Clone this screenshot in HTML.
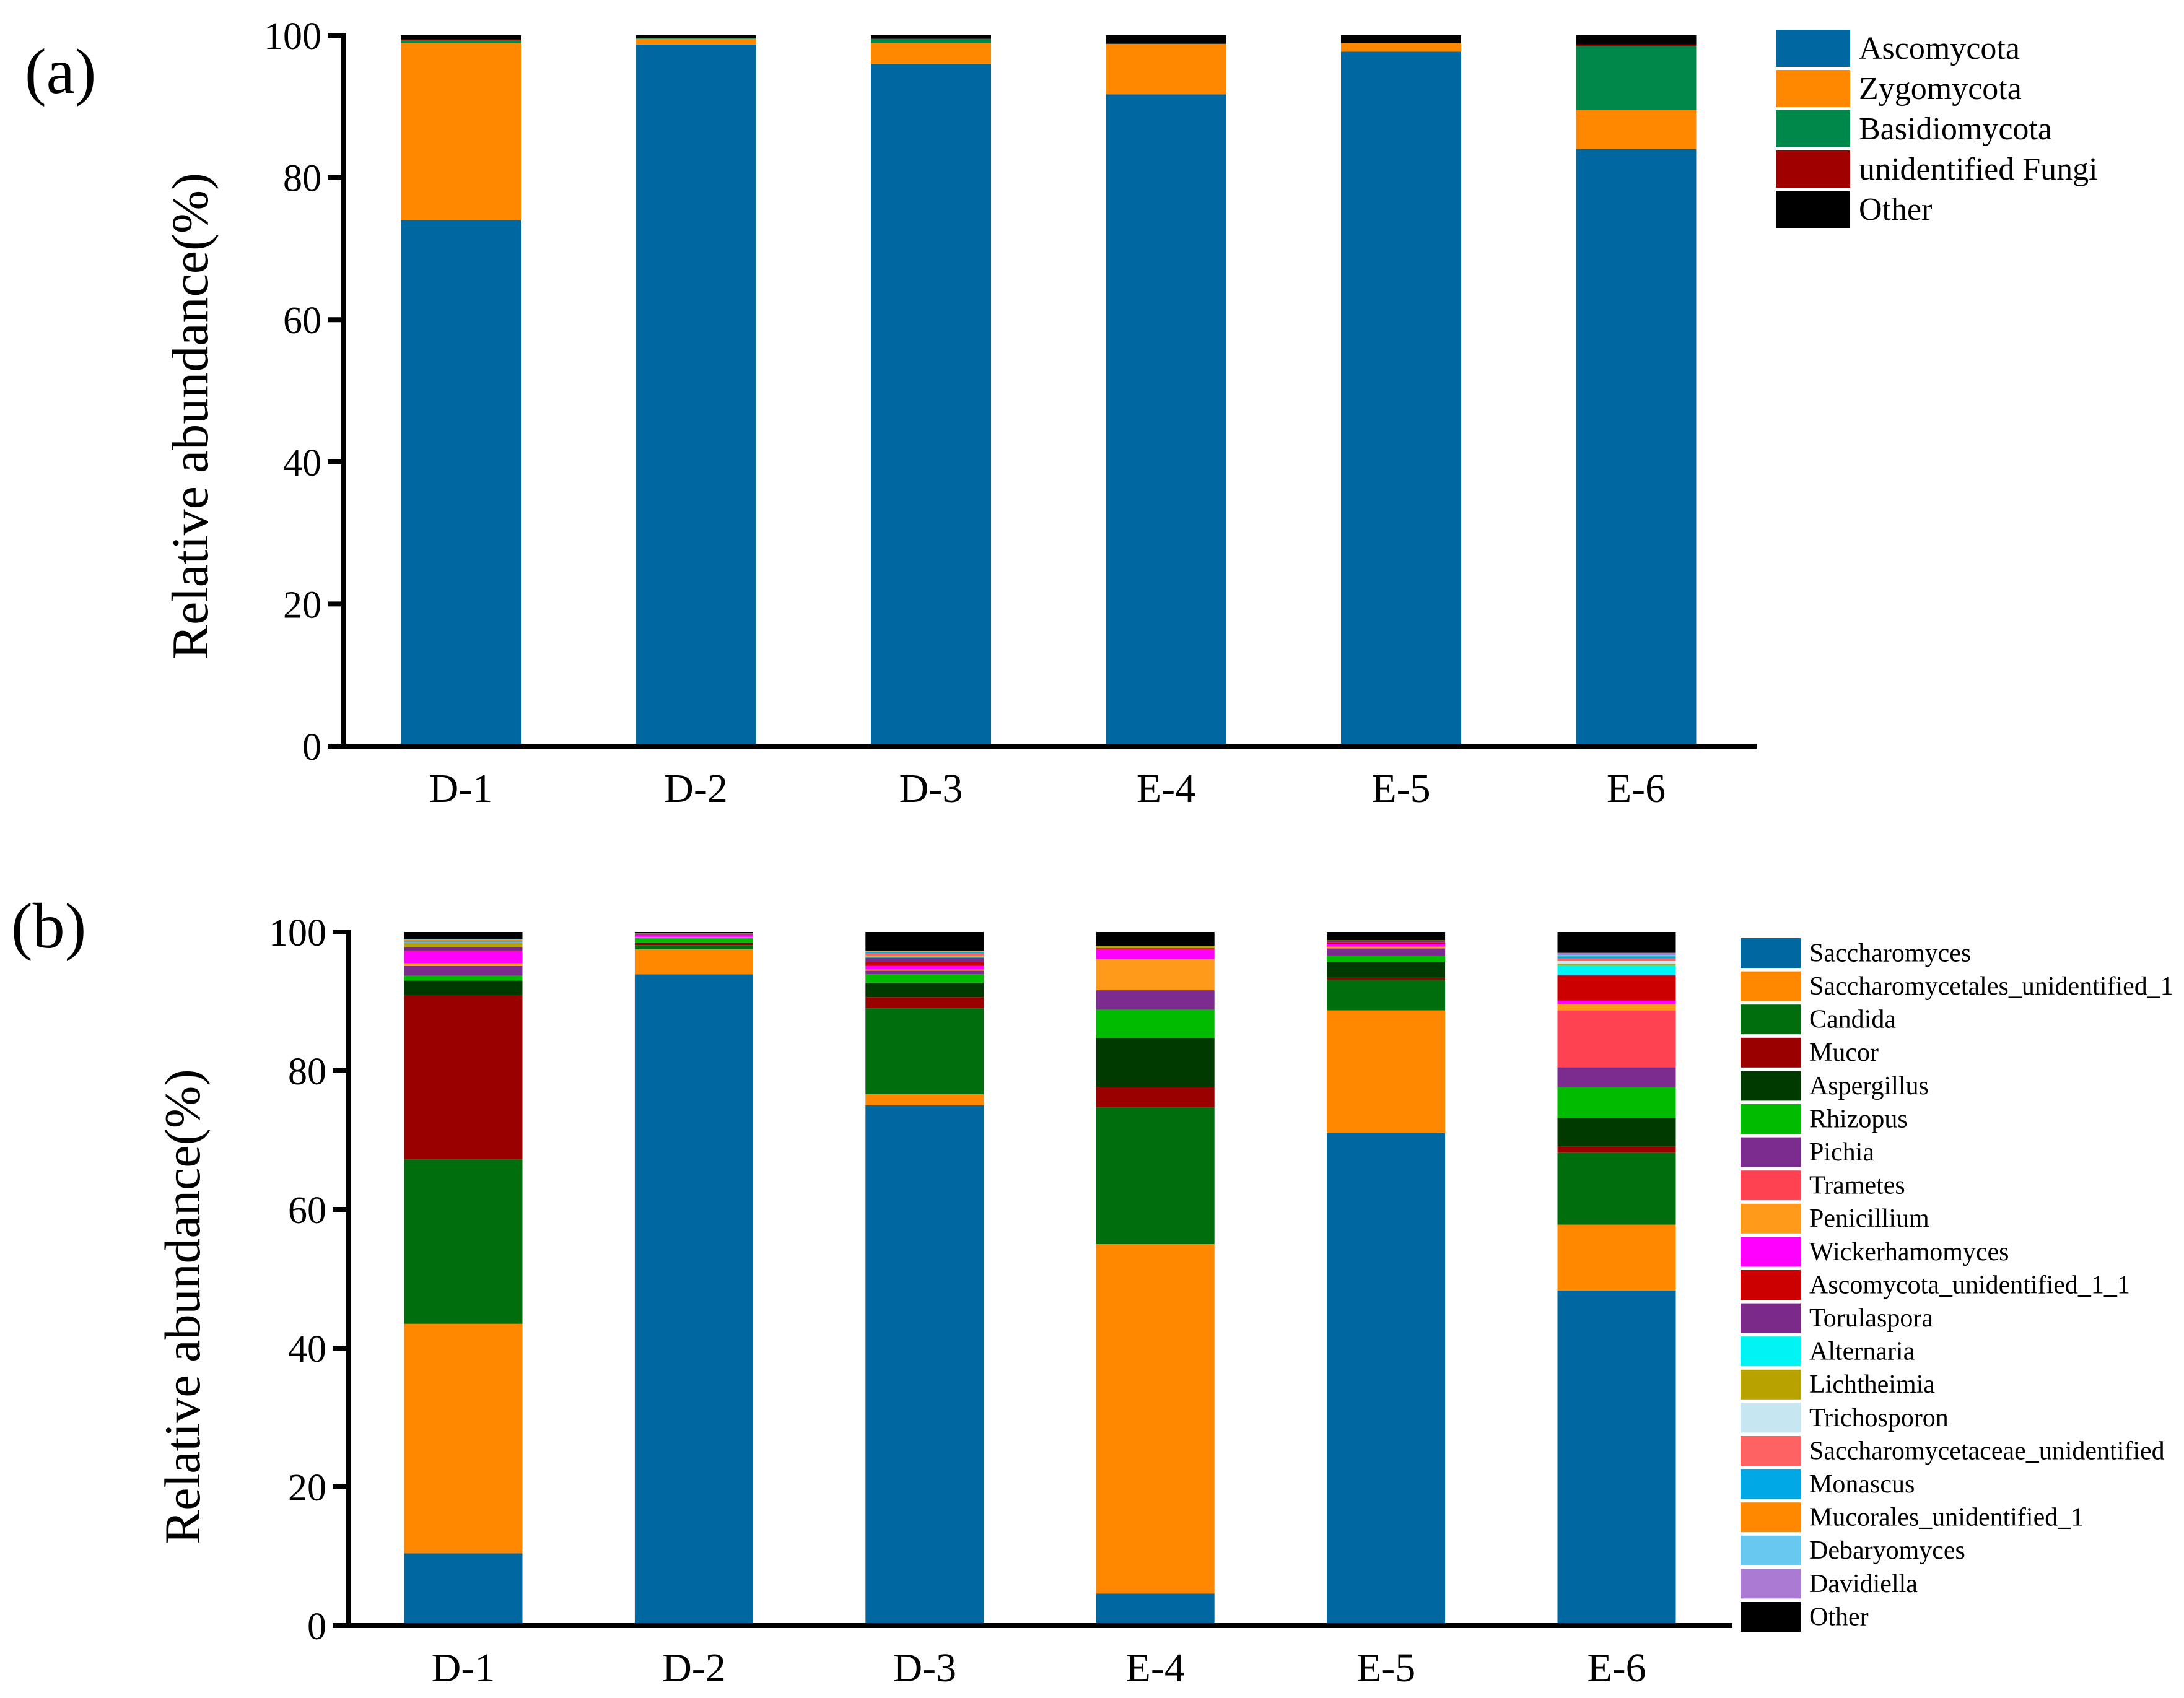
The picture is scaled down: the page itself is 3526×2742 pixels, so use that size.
<!DOCTYPE html>
<html><head><meta charset="utf-8"><style>
html,body{margin:0;padding:0;background:#fff;}
svg{display:block;}
svg text{font-family:"Liberation Serif","Times New Roman",serif;}
</style></head><body>
<svg id="fig" width="3526" height="2742" viewBox="0 0 3526 2742" xmlns="http://www.w3.org/2000/svg" font-family="Liberation Serif, serif">
<text x="40" y="150" font-size="104">(a)</text>
<text x="18" y="1530" font-size="104">(b)</text>
<text transform="translate(335,672) rotate(-90)" text-anchor="middle" font-size="84">Relative abundance(%)</text>
<text transform="translate(322,2110) rotate(-90)" text-anchor="middle" font-size="82">Relative abundance(%)</text>
<g id="pa"></g>
<g id="pb"></g>
</svg>
<script>
const samples = ["D-1","D-2","D-3","E-4","E-5","E-6"];
const yTicks = [0,20,40,60,80,100];
const phylaNames = ["Ascomycota","Zygomycota","Basidiomycota","unidentified Fungi","Other"];
const phylaColors = ["#0067a0","#ff8800","#00884a","#a00000","#000000"];
const ascomycota = [74.0,98.7,96.0,91.7,97.7,84.0];
const zygomycota = [24.9,0.8,2.9,7.1,1.2,5.5];
const basidiomycota = [0.4,0.1,0.6,0.0,0.0,9.0];
const unidentifiedFungi = [0.1,0.0,0.0,0.0,0.0,0.2];
const otherA = [0.8,0.5,0.6,1.2,1.1,1.3];

const genusNames = ["Saccharomyces","Saccharomycetales_unidentified_1","Candida","Mucor","Aspergillus","Rhizopus","Pichia","Trametes","Penicillium","Wickerhamomyces","Ascomycota_unidentified_1_1","Torulaspora","Alternaria","Lichtheimia","Trichosporon","Saccharomycetaceae_unidentified","Monascus","Mucorales_unidentified_1","Debaryomyces","Davidiella","Other"];
const genusColors = ["#0067a0","#ff8800","#006e0c","#990000","#003a00","#00bb00","#7b2c8e","#ff4252","#ff9a1a","#ff00ff","#cc0000","#7b2a8a","#00f4f4","#b8a200","#c6e6f2","#ff6262","#00a8e6","#ff8800","#68c8f0","#ab7ad2","#000000"];
const saccharomyces = [10.4,93.9,75.0,4.6,71.0,48.3];
const saccharomycetalesU1 = [33.1,3.6,1.6,50.4,17.7,9.5];
const candida = [23.7,0.6,12.4,19.7,4.4,10.4];
const mucor = [23.7,0.3,1.6,2.9,0.3,0.9];
const aspergillus = [2.1,0.1,2.1,7.1,2.3,4.1];
const rhizopus = [0.7,0.6,1.2,4.1,0.9,4.4];
const pichia = [1.4,0.1,0.5,2.8,1.0,2.9];
const trametes = [0.0,0.0,0.1,0.0,0.1,8.2];
const penicillium = [0.4,0.1,0.1,4.5,0.2,0.9];
const wickerhamomyces = [1.7,0.3,0.5,1.4,0.4,0.5];
const ascomycotaU11 = [0.1,0.0,0.6,0.1,0.2,3.6];
const torulaspora = [0.5,0.1,0.6,0.1,0.2,0.1];
const alternaria = [0.0,0.0,0.1,0.0,0.0,1.4];
const lichtheimia = [0.6,0.1,0.1,0.3,0.1,0.2];
const trichosporon = [0.1,0.0,0.1,0.0,0.0,0.4];
const saccharomycetaceaeU = [0.1,0.0,0.3,0.0,0.0,0.4];
const monascus = [0.1,0.0,0.2,0.0,0.0,0.3];
const mucoralesU1 = [0.2,0.0,0.1,0.0,0.0,0.1];
const debaryomyces = [0.1,0.0,0.1,0.0,0.0,0.1];
const davidiella = [0.0,0.0,0.0,0.0,0.0,0.3];
const otherB = [1.2,0.5,2.7,2.0,1.2,3.0];

const NS="http://www.w3.org/2000/svg";
function mk(tag,attrs,parent){const e=document.createElementNS(NS,tag);for(const k in attrs)e.setAttribute(k,attrs[k]);parent.appendChild(e);return e;}

function drawPanel(g,cfg,series,names,colors,key){
  const yScale=v=>cfg.y0-(cfg.y0-cfg.y100)*Math.min(v,100)/100;
  const xScale=i=>cfg.c0+cfg.step*i;
  samples.forEach((s,i)=>{
    let cum=0;
    series.forEach((arr,k)=>{
      const v=arr[i];
      if(v<=0){return;}
      const r=mk('rect',{x:xScale(i)-cfg.bw/2,y:yScale(cum+v),width:cfg.bw,height:Math.max(0,yScale(cum)-yScale(cum+v)),fill:colors[k]},g);
      
      
      cum+=v;
    });
    const t=mk('text',{x:xScale(i),y:cfg.y0+cfg.xlab,'text-anchor':'middle','font-size':66},g);
    t.textContent=s;
    
    
  });
  const ya=mk('line',{x1:cfg.ax,y1:cfg.y100-4,x2:cfg.ax,y2:cfg.y0+4,stroke:'#000','stroke-width':8},g);
  
  
  const xa=mk('line',{x1:cfg.ax-4,y1:cfg.y0,x2:cfg.xend,y2:cfg.y0,stroke:'#000','stroke-width':8},g);
  
  
  yTicks.forEach(v=>{
    const tk=mk('line',{x1:cfg.ax-26,y1:yScale(v),x2:cfg.ax,y2:yScale(v),stroke:'#000','stroke-width':8},g);
    
    
    const tl=mk('text',{x:cfg.ax-36,y:yScale(v)+22,'text-anchor':'end','font-size':62},g);
    tl.textContent=v;
    
    
  });
  names.forEach((n,k)=>{
    const y=cfg.ly+cfg.lstep*k;
    const sw=mk('rect',{x:cfg.lx,y:y,width:cfg.lw,height:cfg.lh,fill:colors[k]},g);
    
    
    const lt=mk('text',{x:cfg.lx+cfg.lw+14,y:y+cfg.lh*0.78,'font-size':cfg.lf},g);
    lt.textContent=n;
    
    
  });
}
drawPanel(document.getElementById('pa'),
  {y0:1205,y100:57,c0:744,step:379.5,bw:194,ax:555,xend:2836,xlab:90,lx:2867,ly:48,lstep:65,lw:120,lh:60,lf:52},
  [ascomycota,zygomycota,basidiomycota,unidentifiedFungi,otherA],phylaNames,phylaColors,'a');
drawPanel(document.getElementById('pb'),
  {y0:2625,y100:1505,c0:748,step:372.4,bw:191,ax:563,xend:2797,xlab:90,lx:2810,ly:1515,lstep:53.6,lw:97,lh:48,lf:42},
  [saccharomyces,saccharomycetalesU1,candida,mucor,aspergillus,rhizopus,pichia,trametes,penicillium,wickerhamomyces,ascomycotaU11,torulaspora,alternaria,lichtheimia,trichosporon,saccharomycetaceaeU,monascus,mucoralesU1,debaryomyces,davidiella,otherB],genusNames,genusColors,'b');
</script>
</body></html>
